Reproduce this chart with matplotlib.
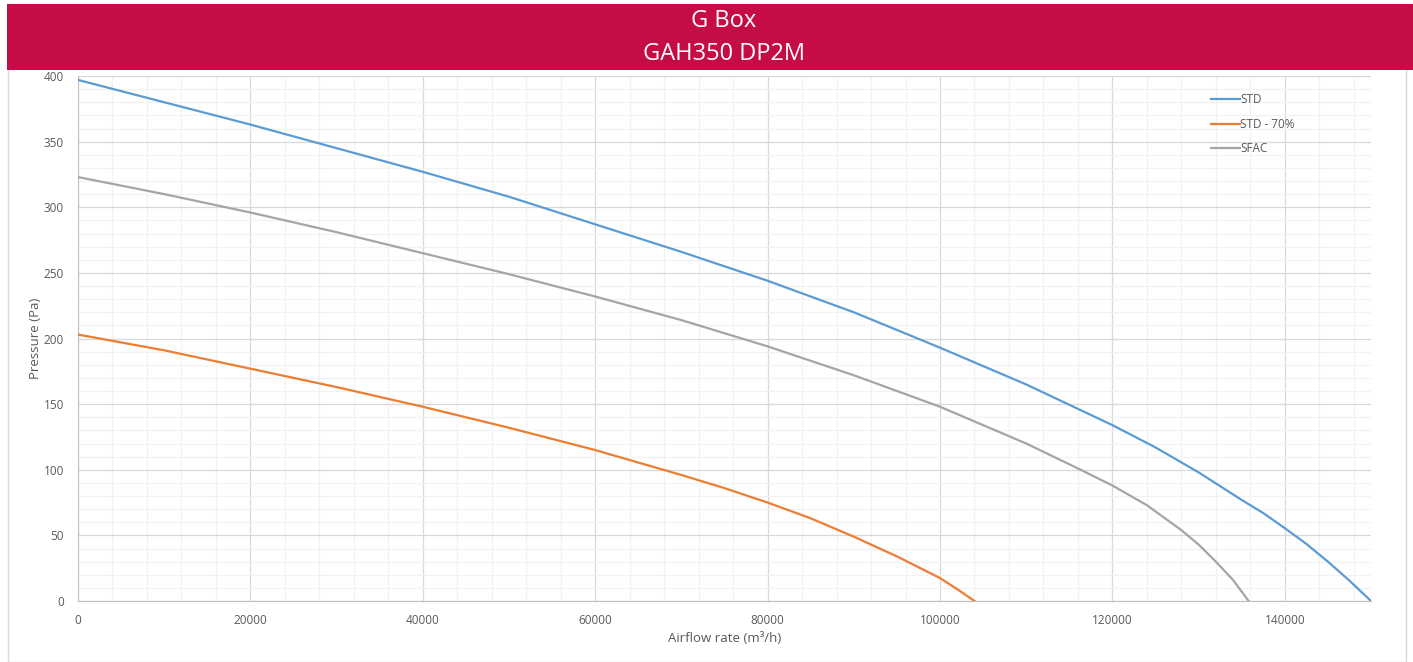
import matplotlib.pyplot as plt
from matplotlib.patches import Rectangle
from matplotlib.ticker import MultipleLocator

# fan curves
std_x = [0, 10000, 20000, 30000, 40000, 50000, 60000, 70000, 80000, 90000,
         100000, 110000, 120000, 125000, 130000, 135000, 137500, 140000,
         142500, 145000, 147500, 150000]
std_y = [397, 380, 363, 345, 327, 308, 287, 266, 244, 220,
         193, 165, 134, 117, 98, 77, 67, 55.5,
         43.5, 30, 15.5, 0]

std70_x = [0, 10000, 20000, 30000, 40000, 50000, 60000, 70000, 75000, 80000,
           85000, 90000, 95000, 100000, 102000, 104000]
std70_y = [203, 191, 177, 163, 148, 132, 115, 96, 86, 75,
           63, 49, 34, 17.5, 9, 0]

sfac_x = [0, 10000, 20000, 30000, 40000, 50000, 60000, 70000, 80000, 90000,
          100000, 110000, 116000, 120000, 124000, 128000, 130000, 132000,
          134000, 135800]
sfac_y = [323, 310, 296, 281, 265, 249, 232, 214, 194, 172,
          148, 120, 101, 88, 73, 54, 43, 30,
          16, 0]

labels = ["STD", "STD - 70%", "SFAC"]
colors = ["#5B9BD5", "#ED7D31", "#A5A5A5"]

plt.rcParams['font.family'] = ['Open Sans', 'DejaVu Sans']

W, H = 1413, 662
fig = plt.figure(figsize=(W / 100, H / 100), dpi=100)
fig.patch.set_facecolor('white')

# outer frame and title banner
fig.add_artist(Rectangle((8 / W, 0), 1398 / W, 1 - 4 / H, transform=fig.transFigure,
                         facecolor='none', edgecolor='#D9D9D9', lw=1))
fig.add_artist(Rectangle((7 / W, 1 - 70 / H), 1 - 7 / W, 66 / H, transform=fig.transFigure,
                         facecolor='#C60C46', edgecolor='none'))
fig.text(724 / W, 1 - 21 / H, "G Box", color='white', fontsize=17, ha='center', va='center')
fig.text(724 / W, 1 - 54 / H, "GAH350 DP2M", color='white', fontsize=17, ha='center', va='center')

ax = fig.add_axes([78 / W, 1 - 601 / H, (1371 - 78) / W, (601 - 76) / H])
for xs, ys, lab, col in zip([std_x, std70_x, sfac_x], [std_y, std70_y, sfac_y], labels, colors):
    ax.plot(xs, ys, color=col, lw=1.6, label=lab, zorder=3, solid_joinstyle='round')

ax.set_xlim(0, 150000)
ax.set_ylim(0, 400)
ax.xaxis.set_major_locator(MultipleLocator(20000))
ax.xaxis.set_minor_locator(MultipleLocator(4000))
ax.yaxis.set_major_locator(MultipleLocator(50))
ax.yaxis.set_minor_locator(MultipleLocator(10))
ax.grid(which='major', color='#D9D9D9', lw=0.9)
ax.grid(which='minor', color='#F2F2F2', lw=0.9)
ax.set_axisbelow(True)
ax.tick_params(which='both', length=0, labelsize=8.5, colors='#595959')
ax.tick_params(axis='x', pad=9)
ax.tick_params(axis='y', pad=10)
for s in ['top', 'right']:
    ax.spines[s].set_visible(False)
for s in ['left', 'bottom']:
    ax.spines[s].set_color('#BFBFBF')

ax.set_xlabel("Airflow rate (m³/h)", fontsize=9.5, color='#595959', labelpad=4)
ax.set_ylabel("Pressure (Pa)", fontsize=9.5, color='#595959', labelpad=1)

leg = ax.legend(loc='upper left', bbox_to_anchor=(0.868, 0.987), frameon=False,
                fontsize=8.5, handlelength=2.5, handletextpad=0.0, labelspacing=0.97)
for t in leg.get_texts():
    t.set_color('#595959')

fig.savefig('out.png', dpi=100)
